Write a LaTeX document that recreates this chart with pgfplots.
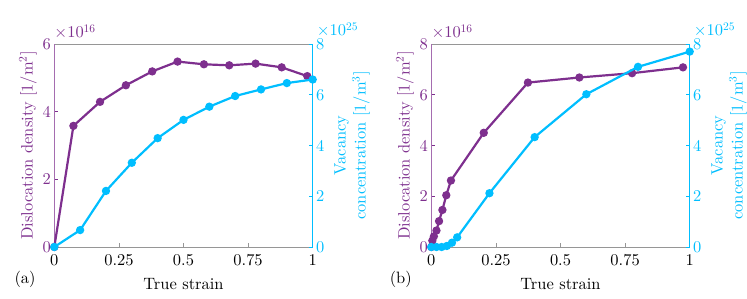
\documentclass[border=0pt]{standalone}
\usepackage{fix-cm}
\usepackage{fontspec}
\setmainfont{lmroman10-regular.otf}
\usepackage{pgfplots}
\pgfplotsset{compat=1.18}
\definecolor{mpurple}{RGB}{126,47,142}
\definecolor{mcyan}{RGB}{0,190,255}
\definecolor{mgray}{RGB}{150,150,150}
\newcommand\ff{\fontsize{16.5}{20}\selectfont}
\pgfplotsset{
  base/.style={
    scale only axis, width=258.4bp, height=203bp,
    xmin=0, xmax=1,
    anchor=south west,
    tick align=inside,
    major tick length=4bp,
    scaled ticks=false,
    /pgf/number format/assume math mode=true,
    tick label style={font=\ff},
    label style={font=\ff},
    clip=false,
  },
  lft/.style={
    base,
    axis x line*=box, axis y line*=left,
    xtick={0,0.25,0.5,0.75,1}, xticklabels={0,0.25,0.5,0.75,1},
    xtick pos=bottom, ytick pos=left,
    x axis line style={mgray, line width=0.5bp},
    y axis line style={mpurple!70, line width=0.5bp},
    xtick style={mgray, line width=0.5bp},
    ytick style={mpurple, line width=0.5bp},
    xticklabel style={yshift=-4bp},
    yticklabel style={text=mpurple},
    ylabel style={text=mpurple, at={(axis description cs:-0.102,0.5)}, anchor=center},
    xlabel style={at={(axis description cs:0.5,-0.18)}, anchor=center},
    xlabel={True strain},
    ylabel={Dislocation density [1/m$^2$]},
  },
  rgt/.style={
    base,
    axis x line=none, axis y line*=right,
    ymin=0, ymax=8, ytick={0,2,4,6,8}, yticklabels={0,2,4,6,8},
    ytick pos=right,
    y axis line style={mcyan, line width=0.5bp},
    ytick style={mcyan, line width=0.5bp},
    yticklabel style={text=mcyan},
    ylabel style={text=mcyan, at={(axis description cs:1.152,0.5)}, anchor=center, align=center},
    ylabel={Vacancy\\concentration [1/m$^3$]},
  },
  pline/.style={mpurple, line width=2.2bp, mark=*, mark size=3bp, mark options={fill=mpurple, draw=mpurple}},
  cline/.style={mcyan, line width=2.2bp, mark=*, mark size=3bp, mark options={fill=mcyan, draw=mcyan}},
}
\begin{document}
\begin{tikzpicture}
\path[use as bounding box] (0,0) rectangle (747bp,299bp);
% ---------- panel (a) ----------
\begin{axis}[lft, at={(54.3bp,52bp)}, ymin=0, ymax=6, ytick={0,2,4,6}, yticklabels={0,2,4,6}]
\addplot[pline] coordinates {(0,0) (0.074,3.58) (0.177,4.29) (0.277,4.78) (0.379,5.19) (0.477,5.48) (0.579,5.40) (0.677,5.37) (0.779,5.42) (0.880,5.31) (0.979,5.05)};
\node[anchor=base west, inner sep=0, text=mpurple, font=\ff] at (rel axis cs:0,1) [yshift=6bp] {$\times$10$^{16}$};
\node[anchor=center, inner sep=0, font=\ff] at (rel axis cs:-0.113,-0.162) {(a)};
\end{axis}
\begin{axis}[rgt, at={(54.3bp,52bp)}]
\addplot[cline] coordinates {(0,0) (0.1,0.667) (0.2,2.21) (0.3,3.32) (0.4,4.29) (0.5,5.01) (0.6,5.53) (0.7,5.95) (0.8,6.21) (0.9,6.46) (1.0,6.60)};
\node[anchor=base west, inner sep=0, text=mcyan, font=\ff] at (rel axis cs:1,1) [xshift=4bp, yshift=8bp] {$\times$10$^{25}$};
\end{axis}
% ---------- panel (b) ----------
\begin{axis}[lft, at={(431.3bp,52bp)}, ymin=0, ymax=8, ytick={0,2,4,6,8}, yticklabels={0,2,4,6,8}]
\addplot[pline] coordinates {(0,0) (0.004,0.25) (0.01,0.42) (0.02,0.65) (0.03,1.02) (0.043,1.46) (0.058,2.04) (0.076,2.62) (0.203,4.5) (0.374,6.48) (0.573,6.68) (0.777,6.85) (0.974,7.08)};
\node[anchor=base west, inner sep=0, text=mpurple, font=\ff] at (rel axis cs:0,1) [yshift=6bp] {$\times$10$^{16}$};
\node[anchor=center, inner sep=0, font=\ff] at (rel axis cs:-0.118,-0.162) {(b)};
\end{axis}
\begin{axis}[rgt, at={(431.3bp,52bp)}]
\addplot[cline] coordinates {(0,0) (0.02,0) (0.04,0) (0.06,0.04) (0.08,0.17) (0.1,0.38) (0.225,2.12) (0.4,4.33) (0.6,6.02) (0.8,7.1) (1.0,7.7)};
\node[anchor=base west, inner sep=0, text=mcyan, font=\ff] at (rel axis cs:1,1) [xshift=4bp, yshift=8bp] {$\times$10$^{25}$};
\end{axis}
\end{tikzpicture}
\end{document}
